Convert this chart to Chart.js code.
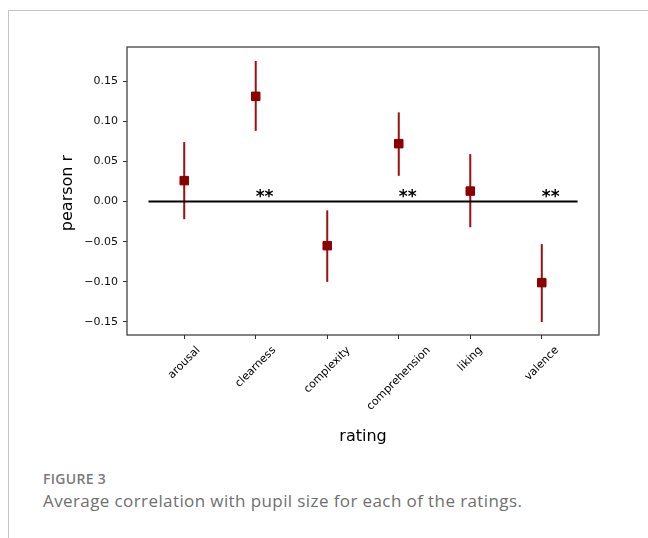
<!DOCTYPE html>
<html>
<head>
<meta charset="utf-8">
<script src="https://cdn.jsdelivr.net/npm/chart.js@4/dist/chart.umd.min.js"></script>
<style>
  html, body { margin: 0; padding: 0; background: #fff; }
  #page { position: relative; width: 648px; height: 538px; overflow: hidden; }
  #frame { position: absolute; left: 8px; top: 10px; width: 700px; height: 600px;
           border-top: 1px solid #c4c4c4; border-left: 1px solid #c4c4c4; }
  #chart { position: absolute; left: 0; top: 0; }
  .fig-label { position: absolute; left: 43px; top: 469px; font-family: "Open Sans", sans-serif;
               font-size: 14px; font-weight: 600; color: #7a7a7a; letter-spacing: 0.3px; }
  .fig-caption { position: absolute; left: 43px; top: 489px; font-family: "Open Sans", sans-serif;
                 font-size: 17px; color: #707070; letter-spacing: 0.4px; }
</style>
</head>
<body>
<div id="page">
  <div id="frame"></div>
  <canvas id="chart" width="648" height="460"></canvas>
  <div class="fig-label">FIGURE 3</div>
  <div class="fig-caption">Average correlation with pupil size for each of the ratings.</div>
</div>
<script>
(function () {
    "use strict";

    // data
    var categories = ["arousal", "clearness", "complexity", "comprehension", "liking", "valence"];
    var meanR = [0.026, 0.131, -0.055, 0.072, 0.013, -0.101];
    var lowerR = [-0.022, 0.088, -0.100, 0.032, -0.032, -0.150];
    var upperR = [0.074, 0.175, -0.011, 0.111, 0.059, -0.053];
    var stars = ["", "**", "", "**", "", "**"];
    var yTicks = [-0.15, -0.10, -0.05, 0.00, 0.05, 0.10, 0.15];
    var yRange = [-0.1662, 0.1924];
    var xRange = [-0.8, 5.8];
    var zeroLineX = [-0.5, 5.5];

    var FONT = "'DejaVu Sans', sans-serif";
    var markColor = "#8b0000";
    var barColor = "#9b1111";

    function fmt(v) {
        var s = Math.abs(v).toFixed(2);
        return (v < -1e-9 ? "\u2212" : "") + s;
    }

    // error bars, frame, axis titles, rotated labels and stars
    var figurePlugin = {
        id: "figure",
        beforeDatasetsDraw: function (chart) {
            var ctx = chart.ctx, xs = chart.scales.x, ys = chart.scales.y;
            ctx.save();
            ctx.strokeStyle = barColor;
            ctx.lineWidth = 2;
            for (var i = 0; i < categories.length; i++) {
                var px = xs.getPixelForValue(i);
                ctx.beginPath();
                ctx.moveTo(px, ys.getPixelForValue(lowerR[i]));
                ctx.lineTo(px, ys.getPixelForValue(upperR[i]));
                ctx.stroke();
            }
            ctx.restore();
        },
        afterDraw: function (chart) {
            var ctx = chart.ctx, a = chart.chartArea;
            var xs = chart.scales.x, ys = chart.scales.y;
            ctx.save();

            // stars
            ctx.fillStyle = "#000";
            ctx.font = "bold 17px " + FONT;
            ctx.textAlign = "left";
            ctx.textBaseline = "alphabetic";
            for (var i = 0; i < stars.length; i++) {
                if (!stars[i]) continue;
                ctx.fillText(stars[i], xs.getPixelForValue(i), ys.getPixelForValue(0));
            }

            // frame
            ctx.strokeStyle = "#333";
            ctx.lineWidth = 1.2;
            ctx.strokeRect(a.left, a.top, a.right - a.left, a.bottom - a.top);

            // rotated category labels, centred under ticks
            ctx.font = "11px " + FONT;
            ctx.textAlign = "center";
            ctx.textBaseline = "middle";
            var lh = 11 * 1.16;
            for (var j = 0; j < categories.length; j++) {
                var w = ctx.measureText(categories[j]).width;
                var H = (w + lh) / Math.SQRT2;
                ctx.save();
                ctx.translate(xs.getPixelForValue(j), a.bottom + 9 + H / 2);
                ctx.rotate(-Math.PI / 4);
                ctx.fillText(categories[j], 0, 0);
                ctx.restore();
            }

            // axis titles
            ctx.font = "16px " + FONT;
            ctx.fillText("rating", (a.left + a.right) / 2, a.bottom + 102);
            ctx.save();
            ctx.translate(a.left - 59, (a.top + a.bottom) / 2 + 2);
            ctx.rotate(-Math.PI / 2);
            ctx.fillText("pearson r", 0, 0);
            ctx.restore();

            ctx.restore();
        }
    };

    var ctx = document.getElementById("chart").getContext("2d");
    new Chart(ctx, {
        type: "scatter",
        data: {
            datasets: [
                {
                    label: "zero",
                    type: "line",
                    data: zeroLineX.map(function (x) { return { x: x, y: 0 }; }),
                    borderColor: "#000",
                    borderWidth: 1.8,
                    pointRadius: 0,
                    order: 0
                },
                {
                    label: "pearson r",
                    data: meanR.map(function (v, i) { return { x: i, y: v }; }),
                    pointStyle: "rect",
                    pointRadius: 6,
                    backgroundColor: markColor,
                    borderColor: markColor,
                    borderWidth: 1,
                    order: 1
                }
            ]
        },
        options: {
            responsive: false,
            animation: false,
            devicePixelRatio: 1,
            layout: { padding: { left: 0, top: 47, right: 49, bottom: 0 } },
            plugins: { legend: { display: false }, tooltip: { enabled: false } },
            scales: {
                x: {
                    type: "linear",
                    min: xRange[0],
                    max: xRange[1],
                    afterBuildTicks: function (scale) {
                        scale.ticks = categories.map(function (c, i) { return { value: i }; });
                    },
                    afterFit: function (scale) { scale.height = 125; },
                    ticks: { display: false },
                    grid: { drawOnChartArea: false, drawTicks: true, tickLength: 4, tickColor: "#333", tickWidth: 1 },
                    border: { display: false }
                },
                y: {
                    type: "linear",
                    min: yRange[0],
                    max: yRange[1],
                    afterBuildTicks: function (scale) {
                        scale.ticks = yTicks.map(function (v) { return { value: v }; });
                    },
                    afterFit: function (scale) { scale.width = 127; },
                    ticks: {
                        padding: 5,
                        color: "#111",
                        font: { family: FONT, size: 11 },
                        callback: function (v) { return fmt(v); }
                    },
                    grid: { drawOnChartArea: false, drawTicks: true, tickLength: 4, tickColor: "#333", tickWidth: 1 },
                    border: { display: false }
                }
            }
        },
        plugins: [figurePlugin]
    });
})();
</script>
</body>
</html>
